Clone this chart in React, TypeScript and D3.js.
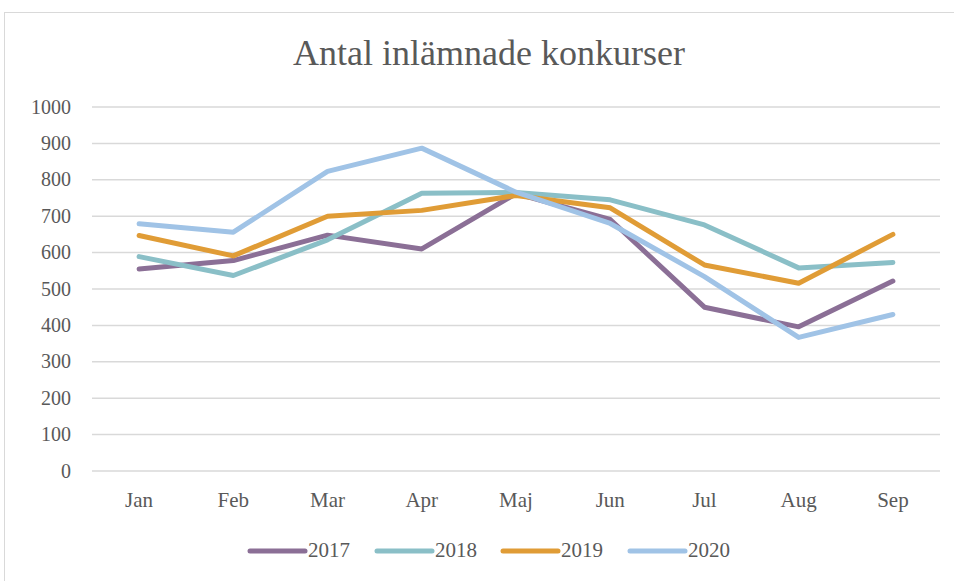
import React from "react";
import * as d3 from "d3";

const months = ["Jan", "Feb", "Mar", "Apr", "Maj", "Jun", "Jul", "Aug", "Sep"];
const years = ["2017", "2018", "2019", "2020"];
const v2017 = [555, 578, 648, 610, 762, 691, 450, 396, 522];
const v2018 = [589, 537, 635, 763, 765, 745, 676, 558, 573];
const v2019 = [647, 591, 700, 716, 757, 723, 566, 516, 650];
const v2020 = [679, 656, 823, 887, 766, 680, 534, 367, 430];
const yTicks = [0, 100, 200, 300, 400, 500, 600, 700, 800, 900, 1000];
const colors = ["#8B6F96", "#8ABFC7", "#E09C36", "#A0C3E6"];
const title = "Antal inlämnade konkurser";

const W = 954;
const H = 581;
const FONT = "'Liberation Serif', 'DejaVu Serif', serif";
const TEXT = "#595959";

export default function App() {
  const series = [v2017, v2018, v2019, v2020];
  const x = d3.scaleBand<string>().domain(months).range([92, 940]);
  const y = d3.scaleLinear().domain([0, 1000]).range([471, 107]);
  const line = d3
    .line<number>()
    .x((_, i) => (x(months[i]) as number) + x.bandwidth() / 2)
    .y((d) => y(d));

  const legendX = [250, 377, 503, 630];

  return (
    <div style={{ position: "absolute", left: 0, top: 0 }}>
      <svg width={W} height={H} style={{ display: "block", background: "#fff" }}>
        <rect x={4.5} y={12.5} width={W + 10} height={H + 10} fill="#fff" stroke="#D9D9D9" strokeWidth={1} />
        <text x={489} y={65} textAnchor="middle" fontFamily={FONT} fontSize={36} fill={TEXT}>
          {title}
        </text>
        {yTicks.map((t) => (
          <g key={t}>
            <line x1={92} x2={940} y1={y(t)} y2={y(t)} stroke="#D9D9D9" strokeWidth={1.5} />
            <text x={71} y={y(t) + 6.5} textAnchor="end" fontFamily={FONT} fontSize={20} fill={TEXT}>
              {t}
            </text>
          </g>
        ))}
        {months.map((m) => (
          <text
            key={m}
            x={(x(m) as number) + x.bandwidth() / 2}
            y={507}
            textAnchor="middle"
            fontFamily={FONT}
            fontSize={21}
            fill={TEXT}
          >
            {m}
          </text>
        ))}
        {series.map((s, i) => (
          <path
            key={years[i]}
            d={line(s) as string}
            fill="none"
            stroke={colors[i]}
            strokeWidth={5}
            strokeLinejoin="round"
            strokeLinecap="round"
          />
        ))}
        {years.map((yr, i) => (
          <g key={yr}>
            <line
              x1={legendX[i]}
              x2={legendX[i] + 55}
              y1={551}
              y2={551}
              stroke={colors[i]}
              strokeWidth={5}
              strokeLinecap="round"
            />
            <text x={legendX[i] + 58} y={557} fontFamily={FONT} fontSize={21} fill={TEXT}>
              {yr}
            </text>
          </g>
        ))}
      </svg>
    </div>
  );
}
